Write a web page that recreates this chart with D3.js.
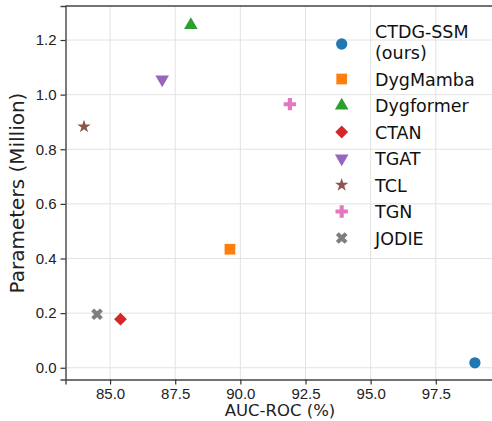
<!DOCTYPE html>
<html>
<head>
<meta charset="utf-8">
<script src="https://cdn.jsdelivr.net/npm/d3@7"></script>
<style>
  body { margin: 0; background: #fff; }
  svg { display: block; font-family: "DejaVu Sans", sans-serif; }
</style>
</head>
<body>
<svg id="grafico" width="492" height="421"></svg>
<script>
// datos
var modelos = ["CTDG-SSM\n(ours)", "DygMamba", "Dygformer", "CTAN", "TGAT", "TCL", "TGN", "JODIE"];
var aucRoc = [99.0, 89.6, 88.1, 85.4, 87.0, 84.0, 91.9, 84.5];
var parametros = [0.018, 0.434, 1.255, 0.178, 1.056, 0.883, 0.965, 0.196];
var ticksX = [85.0, 87.5, 90.0, 92.5, 95.0, 97.5];
var ticksY = [0.0, 0.2, 0.4, 0.6, 0.8, 1.0, 1.2];

var colores = ["#1f77b4", "#ff7f0e", "#2ca02c", "#d62728", "#9467bd", "#8c564b", "#e377c2", "#7f7f7f"];

// forma de cada marcador: [simbolo, area, rotacion]
var marcadores = [
    [d3.symbolCircle, 100, 0],
    [d3.symbolSquare, 115, 0],
    [d3.symbolTriangle, 80, 0],
    [d3.symbolSquare, 82, 45],
    [d3.symbolTriangle, 80, 180],
    [d3.symbolStar, 55, 0],
    [d3.symbolCross, 85, 0],
    [d3.symbolCross, 85, 45]
];

var svg = d3.select("#grafico");

var x = d3.scaleLinear().domain([83.29, 99.76]).range([65.5, 494.7]);
var y = d3.scaleLinear().domain([-0.043, 1.3245]).range([379.5, 6]);

// rejilla
svg.append("g").selectAll("line").data(ticksX).join("line")
    .attr("x1", d => x(d)).attr("x2", d => x(d))
    .attr("y1", y.range()[1]).attr("y2", y.range()[0])
    .attr("stroke", "#e2e2e2").attr("stroke-width", 1);
svg.append("g").selectAll("line").data(ticksY).join("line")
    .attr("x1", x.range()[0]).attr("x2", x.range()[1])
    .attr("y1", d => y(d)).attr("y2", d => y(d))
    .attr("stroke", "#e2e2e2").attr("stroke-width", 1);

// ejes
var ejeX = svg.append("g")
    .attr("transform", "translate(0," + y.range()[0] + ")")
    .call(d3.axisBottom(x).tickValues(ticksX).tickFormat(d3.format(".1f")).tickSizeOuter(0).tickSize(5).tickPadding(4));
var ejeY = svg.append("g")
    .attr("transform", "translate(" + x.range()[0] + ",0)")
    .call(d3.axisLeft(y).tickValues(ticksY).tickFormat(d3.format(".1f")).tickSizeOuter(0).tickSize(5).tickPadding(4));

[ejeX, ejeY].forEach(function (e) {
    e.selectAll("text").style("font-size", "15px").attr("fill", "#222");
    e.selectAll("line").attr("stroke", "#333").attr("stroke-width", 1.2);
    e.select(".domain").attr("stroke", "#444").attr("stroke-width", 1.4);
});

// linea superior
svg.append("line")
    .attr("x1", x.range()[0]).attr("x2", x.range()[1])
    .attr("y1", y.range()[1]).attr("y2", y.range()[1])
    .attr("stroke", "#444").attr("stroke-width", 1.4);

// etiquetas de ejes
svg.append("text")
    .attr("x", 280).attr("y", 416)
    .attr("text-anchor", "middle")
    .style("font-size", "16.5px").attr("fill", "#222")
    .text("AUC-ROC (%)");
svg.append("text")
    .attr("transform", "translate(24,193) rotate(-90)")
    .attr("text-anchor", "middle")
    .style("font-size", "20px").attr("fill", "#222")
    .text("Parameters (Million)");

function forma(i) {
    var m = marcadores[i];
    return d3.symbol().type(m[0]).size(m[1])();
}

// puntos
svg.append("g").selectAll("path").data(modelos).join("path")
    .attr("d", (d, i) => forma(i))
    .attr("transform", (d, i) => "translate(" + x(aucRoc[i]) + "," + y(parametros[i]) + ") rotate(" + marcadores[i][2] + ")")
    .attr("fill", (d, i) => colores[i]);

// leyenda
var filaY = function (i) { return i === 0 ? 44 : 79 + (i - 1) * 26.5; };
var leyenda = svg.append("g");
leyenda.selectAll("path").data(modelos).join("path")
    .attr("d", (d, i) => forma(i))
    .attr("transform", (d, i) => "translate(341.7," + filaY(i) + ") rotate(" + marcadores[i][2] + ")")
    .attr("fill", (d, i) => colores[i]);
leyenda.selectAll("text").data(modelos).join("text")
    .attr("x", 375)
    .attr("y", (d, i) => i === 0 ? 37.5 : filaY(i) + 6.5)
    .style("font-size", "17.5px").attr("fill", "#111")
    .each(function (d) {
        var lineas = d.split("\n");
        d3.select(this).selectAll("tspan").data(lineas).join("tspan")
            .attr("x", 375)
            .attr("dy", (l, j) => j === 0 ? 0 : 21)
            .text(l => l);
    });
</script>
</body>
</html>
